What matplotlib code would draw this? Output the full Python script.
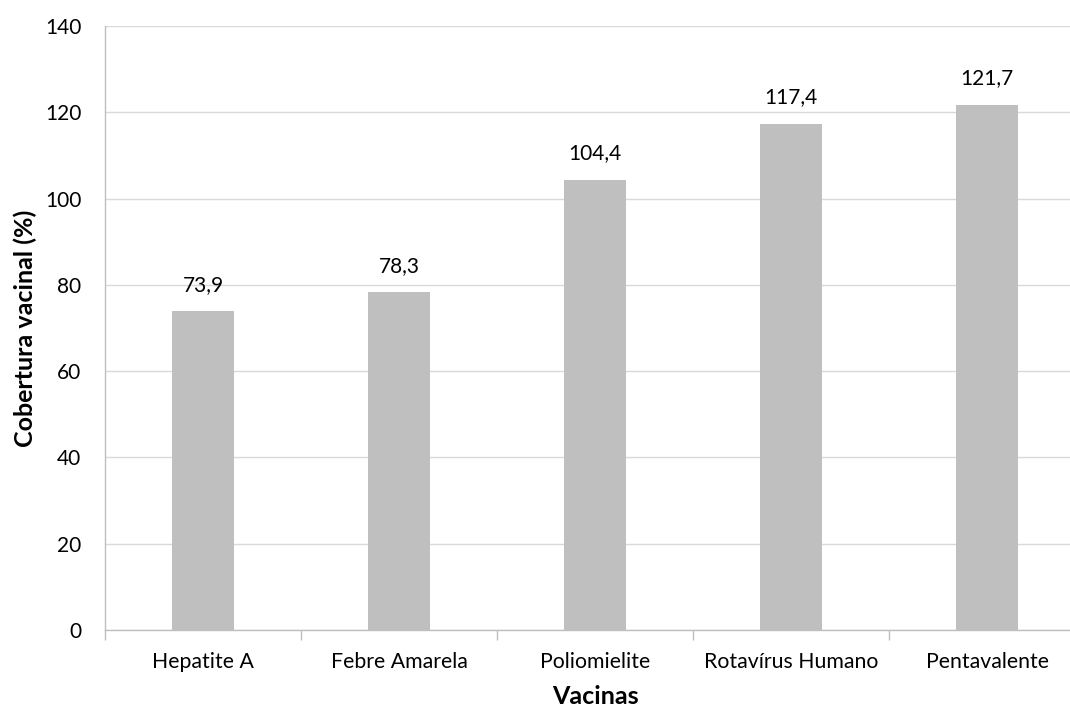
import matplotlib
matplotlib.use("Agg")
import matplotlib.pyplot as plt
import numpy as np

categories = ["Hepatite A", "Febre Amarela", "Poliomielite", "Rotavírus Humano", "Pentavalente"]
values = [73.9, 78.3, 104.4, 117.4, 121.7]
labels = ["73,9", "78,3", "104,4", "117,4", "121,7"]
yticks = [0, 20, 40, 60, 80, 100, 120, 140]

plt.rcParams['font.family'] = ['Lato', 'DejaVu Sans']

fig = plt.figure(figsize=(10.7, 7.09), dpi=100)
ax = fig.add_axes([105/1070, 1-630/709, 980/1070, 604/709])

x = np.arange(len(categories))
ax.bar(x, values, width=0.32, color="#BFBFBF", zorder=3)
for xi, v, lab in zip(x, values, labels):
    ax.text(xi, v + 3.8, lab, ha="center", va="bottom", fontsize=15, color="#000000")

ax.set_xlim(-0.5, len(categories) - 0.5)
ax.set_ylim(0, 140)
ax.set_yticks(yticks)
ax.set_yticklabels([str(t) for t in yticks], fontsize=15)
ax.yaxis.grid(True, color="#D9D9D9", linewidth=1, zorder=0)
ax.tick_params(axis="y", length=0, pad=17)

ax.set_xticks(x)
ax.set_xticklabels(categories, fontsize=15.3)
ax.tick_params(axis="x", which="major", length=0, pad=16)
ax.set_xticks(np.arange(-0.5, len(categories)), minor=True)
ax.tick_params(axis="x", which="minor", length=7, color="#BFBFBF", width=1)

for s in ["top", "right"]:
    ax.spines[s].set_visible(False)
for s in ["left", "bottom"]:
    ax.spines[s].set_color("#BFBFBF")
    ax.spines[s].set_linewidth(1)

ax.set_xlabel("Vacinas", fontsize=18, fontweight="bold", labelpad=9.5)
ax.set_ylabel("Cobertura vacinal (%)", fontsize=18, fontweight="bold", labelpad=6)

fig.savefig("out.png", dpi=100)
